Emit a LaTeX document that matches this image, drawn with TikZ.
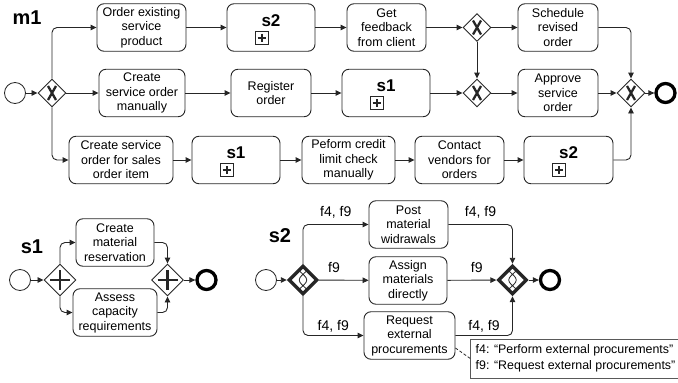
\documentclass[tikz,border=0pt]{standalone}
\usepackage{fontspec}
\setmainfont{Liberation Sans}
\usetikzlibrary{shapes.geometric,arrows.meta}
\newcommand{\tasksize}{\fontsize{12.5}{14.5}\selectfont}
\newcommand{\subsize}{\fontsize{17}{18}\selectfont\bfseries}
\newcommand{\headsize}{\fontsize{20}{22}\selectfont\bfseries}
\newcommand{\lblsize}{\fontsize{14}{16}\selectfont}
\newcommand{\notesize}{\fontsize{12.4}{16.5}\selectfont}
\begin{document}
\begin{tikzpicture}
            [x=1pt,y=-1pt,
             flow/.style ={draw=black!85,line width=0.9pt,rounded corners=5pt,-{Triangle[length=6pt,width=5.5pt]}},
             assoc/.style ={draw=black!85,line width=0.8pt,dash pattern=on 3pt off 2pt},
             task/.style ={draw=black!85,line width=0.9pt,rounded corners=7pt,align=center,font=\tasksize,minimum height=47.5pt,inner sep=0pt},
             sub/.style ={task,font=\subsize,text height=12pt,text depth=15pt,
               path picture={\draw[sharp corners,line width=1pt,shift={(path picture bounding box.center)}] (-6.5,5) rectangle (6.5,18);
                 \draw[sharp corners,line width=2pt,shift={(path picture bounding box.center)}] (-4,11.5) -- (4,11.5) (0,7.5) -- (0,15.5);}},
             gw/.style ={diamond,aspect=1,draw=black!85,line width=0.9pt,minimum size=28pt,inner sep=0pt},
             xgw/.style ={gw,path picture={\draw[line width=2.3pt,shift={(path picture bounding box.center)}] (-4,-7) -- (4,7) (4,-7) -- (-4,7);}},
             pgw/.style ={gw,minimum size=32pt,path picture={\draw[line width=2.3pt,shift={(path picture bounding box.center)}] (-10,0) -- (10,0) (0,-10) -- (0,10);}},
             cgw/.style ={gw,minimum size=29pt,line width=3.4pt,path picture={\draw[line width=0.8pt,shift={(path picture bounding box.center)}] (-6,-11) .. controls (7,0) .. (-6,11) (6,-11) .. controls (-7,0) .. (6,11);}},
             startev/.style ={circle,draw=black!85,line width=0.8pt,minimum size=21pt,inner sep=0pt},
             endev/.style ={circle,draw=black,line width=3.3pt,minimum size=19pt,inner sep=0pt},
             hd/.style ={font=\headsize,inner sep=0pt},
             lbl/.style ={font=\lblsize,inner sep=0pt},
             note/.style ={draw=black!65,line width=0.8pt,align=left,font=\notesize,inner xsep=5pt,inner ysep=2pt,minimum height=39pt}]
            \useasboundingbox (0,0) rectangle (678,383);
            % m1
            \node[hd] (m1) at (27,17.5) {m1};
            \node[startev] (st) at (15,93) {};
            \node[xgw] (g1) at (52,93) {};
            \node[task,minimum width=89pt] (oesp) at (141.5,27.5) {Order existing\\service\\product};
            \node[sub,minimum width=88pt] (s2a) at (271,27.5) {s2};
            \node[task,minimum width=79pt] (gfc) at (386.5,27.5) {Get\\feedback\\from client};
            \node[xgw] (g2) at (477,27.5) {};
            \node[task,minimum width=80pt] (sro) at (558,27.5) {Schedule\\revised\\order};
            \node[task,minimum width=86pt] (csom) at (142,93) {Create\\service order\\manually};
            \node[task,minimum width=80pt] (ro) at (271,93) {Register\\order};
            \node[sub,minimum width=88pt] (s1a) at (386,93) {s1};
            \node[xgw] (g3) at (477,93) {};
            \node[task,minimum width=80pt] (aso) at (558,93) {Approve\\service\\order};
            \node[xgw] (g4) at (631,93) {};
            \node[endev] (en) at (665.5,93) {};
            \node[task,minimum width=104pt] (csos) at (121,160) {Create service\\order for sales\\order item};
            \node[sub,minimum width=88pt] (s1b) at (236,160) {s1};
            \node[task,minimum width=93pt] (pcl) at (348.5,160) {Peform credit\\limit check\\manually};
            \node[task,minimum width=89pt] (cvo) at (459.5,160) {Contact\\vendors for\\orders};
            \node[sub,minimum width=89pt] (s2b) at (568.5,160) {s2};
            \draw[flow] (st) -- (g1);
            \draw[flow] (g1) |- (oesp);
            \draw[flow] (g1) -- (csom);
            \draw[flow] (g1) |- (csos);
            \draw[flow] (oesp) -- (s2a);
            \draw[flow] (s2a) -- (gfc);
            \draw[flow] (gfc) -- (g2);
            \draw[flow] (g2) -- (sro);
            \draw[flow] (g2) -- (g3);
            \draw[flow] (sro) -| (g4);
            \draw[flow] (csom) -- (ro);
            \draw[flow] (ro) -- (s1a);
            \draw[flow] (s1a) -- (g3);
            \draw[flow] (g3) -- (aso);
            \draw[flow] (aso) -- (g4);
            \draw[flow] (g4) -- (en);
            \draw[flow] (csos) -- (s1b);
            \draw[flow] (s1b) -- (pcl);
            \draw[flow] (pcl) -- (cvo);
            \draw[flow] (cvo) -- (s2b);
            \draw[flow] (s2b) -| (g4);
            % s1
            \node[hd] (s1) at (32,247) {s1};
            \node[startev] (st1) at (20,280) {};
            \node[pgw] (pg1) at (60,280) {};
            \node[task,minimum width=78pt] (cmr) at (115,242.5) {Create\\material\\reservation};
            \node[task,minimum width=84pt] (acr) at (115,312.5) {Assess\\capacity\\requirements};
            \node[pgw] (pg2) at (167.5,280) {};
            \node[endev] (en1) at (206.5,280) {};
            \draw[flow] (st1) -- (pg1);
            \draw[flow] (pg1) |- (cmr);
            \draw[flow] (pg1) |- (acr);
            \draw[flow] (cmr) -| (pg2);
            \draw[flow] (acr) -| (pg2);
            \draw[flow] (pg2) -- (en1);
            % s2
            \node[hd] (s2) at (280,236) {s2};
            \node[startev] (st2) at (266,280) {};
            \node[cgw] (cg1) at (303,280) {};
            \node[task,minimum width=79pt] (pmw) at (408.5,224.5) {Post\\material\\widrawals};
            \node[task,minimum width=78pt] (amd) at (408,280.5) {Assign\\materials\\directly};
            \node[task,minimum width=91pt] (rep) at (409.5,335.5) {Request\\external\\procurements};
            \node[cgw] (cg2) at (512.5,280) {};
            \node[endev] (en2) at (550,280) {};
            \node[note] (nt) at (575.5,358.5) {f4: “Perform external procurements”\\f9: “Request external procurements”};
            \draw[flow] (st2) -- (cg1);
            \draw[flow] (cg1) |- node[lbl,pos=0.75,yshift=12.5pt] (l1) {f4, f9} (pmw);
            \draw[flow] (cg1) -- node[lbl,pos=0.3,yshift=13pt] (l2) {f9} (amd);
            \draw[flow] (cg1) |- node[lbl,pos=0.75,yshift=9.5pt] (l3) {f4, f9} (rep);
            \draw[flow] (pmw) -| node[lbl,pos=0.25,yshift=12.5pt] (l4) {f4, f9} (cg2);
            \draw[flow] (amd) -- node[lbl,pos=0.6,yshift=13pt] (l5) {f9} (cg2);
            \draw[flow] (rep) -| node[lbl,pos=0.25,yshift=9.5pt] (l6) {f4, f9} (cg2);
            \draw[flow] (cg2) -- (en2);
            \draw[assoc] ([yshift=-12.5pt]rep.east) -- (nt.west);
        \end{tikzpicture}
\end{document}
